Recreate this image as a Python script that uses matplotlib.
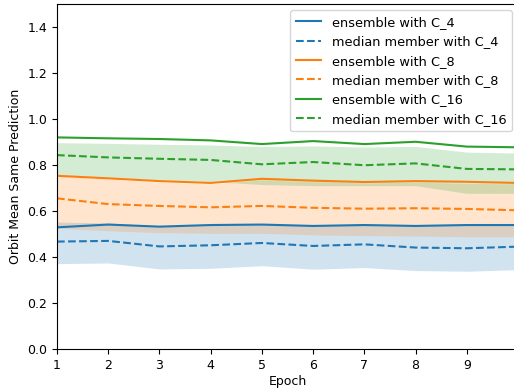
import matplotlib
matplotlib.use("Agg")
import matplotlib.pyplot as plt
import numpy as np

epochs = [1, 2, 3, 4, 5, 6, 7, 8, 9, 10]

# C_4
ens_c4 = [0.529, 0.541, 0.532, 0.539, 0.541, 0.535, 0.539, 0.535, 0.539, 0.539]
med_c4 = [0.467, 0.470, 0.446, 0.451, 0.461, 0.448, 0.455, 0.441, 0.438, 0.445]
lo_c4 = [0.371, 0.374, 0.348, 0.351, 0.362, 0.347, 0.354, 0.341, 0.338, 0.345]
hi_c4 = [0.552, 0.548, 0.535, 0.540, 0.542, 0.537, 0.540, 0.537, 0.540, 0.540]

# C_8
ens_c8 = [0.753, 0.742, 0.730, 0.722, 0.740, 0.732, 0.726, 0.730, 0.727, 0.722]
med_c8 = [0.655, 0.630, 0.622, 0.616, 0.622, 0.614, 0.610, 0.612, 0.609, 0.603]
lo_c8 = [0.525, 0.514, 0.506, 0.503, 0.503, 0.496, 0.493, 0.491, 0.488, 0.488]
hi_c8 = [0.752, 0.739, 0.726, 0.718, 0.735, 0.728, 0.722, 0.725, 0.720, 0.718]

# C_16
ens_c16 = [0.920, 0.916, 0.913, 0.907, 0.891, 0.904, 0.891, 0.901, 0.880, 0.877]
med_c16 = [0.843, 0.833, 0.827, 0.822, 0.803, 0.813, 0.799, 0.807, 0.783, 0.781]
lo_c16 = [0.757, 0.745, 0.735, 0.728, 0.715, 0.710, 0.710, 0.710, 0.677, 0.677]
hi_c16 = [0.897, 0.894, 0.890, 0.887, 0.880, 0.883, 0.878, 0.881, 0.856, 0.852]

groups = [
    ("C_4", ens_c4, med_c4, lo_c4, hi_c4, "tab:blue"),
    ("C_8", ens_c8, med_c8, lo_c8, hi_c8, "tab:orange"),
    ("C_16", ens_c16, med_c16, lo_c16, hi_c16, "tab:green"),
]

plt.rcParams["font.size"] = 9

fig = plt.figure(figsize=(5.14, 3.90), dpi=100)
ax = fig.add_axes([57 / 514, 41 / 390, 461 / 514, 345 / 390])

for name, ens, med, lo, hi, color in groups:
    ax.plot(epochs, ens, color=color, linestyle="-", label=f"ensemble with {name}")
    ax.plot(epochs, med, color=color, linestyle="--", label=f"median member with {name}")
    ax.fill_between(epochs, lo, hi, color=color, alpha=0.2, linewidth=0)

ax.set_xlim(1, 10)
ax.set_ylim(0, 1.5)
ax.set_xticks(range(1, 10))
ax.set_yticks(np.arange(0, 1.41, 0.2))
ax.set_xlabel("Epoch", labelpad=2)
ax.set_ylabel("Orbit Mean Same Prediction")
ax.legend(loc="upper right", fontsize=9.3)

fig.savefig("out.png", dpi=100)
